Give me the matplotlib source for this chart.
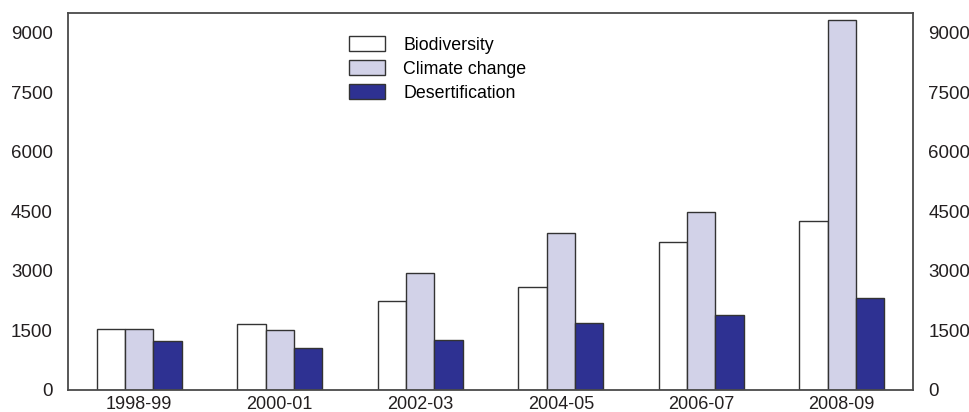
import matplotlib.pyplot as plt
import numpy as np

plt.rcParams['font.family'] = ['Liberation Sans', 'DejaVu Sans']

years = ['1998-99', '2000-01', '2002-03', '2004-05', '2006-07', '2008-09']
biodiversity = [1530, 1660, 2250, 2600, 3720, 4250]
climate = [1530, 1510, 2940, 3960, 4480, 9320]
desert = [1240, 1060, 1260, 1700, 1900, 2320]

series = [('Biodiversity', biodiversity, 'white'),
          ('Climate change', climate, '#d2d2e8'),
          ('Desertification', desert, '#2e3192')]

fig = plt.figure(figsize=(9.7, 4.12), dpi=100)
ax = fig.add_axes([68/970, 1 - 390/412, (913 - 68)/970, (390 - 13)/412])

x = np.arange(len(years))
w = 0.202
for i, (name, vals, col) in enumerate(series):
    ax.bar(x + (i - 1) * w, vals, w, color=col, edgecolor='#333333',
           linewidth=1.0, label=name)

ax.set_xlim(-0.507, 5.507)
ax.set_ylim(0, 9500)
yt = [0, 1500, 3000, 4500, 6000, 7500, 9000]
ax.set_yticks(yt)
ax.set_xticks(x)
ax.set_xticklabels(years)
ax.tick_params(axis='y', length=0, labelsize=13.5, pad=11, colors='#231f20',
               right=True, labelright=True)
ax.tick_params(axis='x', length=0, labelsize=13, pad=4, colors='#231f20')
for s in ax.spines.values():
    s.set_color('#4a4a4a')
    s.set_linewidth(1.3)

ax.legend(loc='upper left', bbox_to_anchor=(349/970, 1 - 36/412),
          bbox_transform=fig.transFigure, frameon=False, fontsize=12.8,
          handlelength=2.05, handleheight=0.95, labelspacing=0.35,
          handletextpad=1.0, borderpad=0, borderaxespad=0)

fig.savefig('out.png', dpi=100)
